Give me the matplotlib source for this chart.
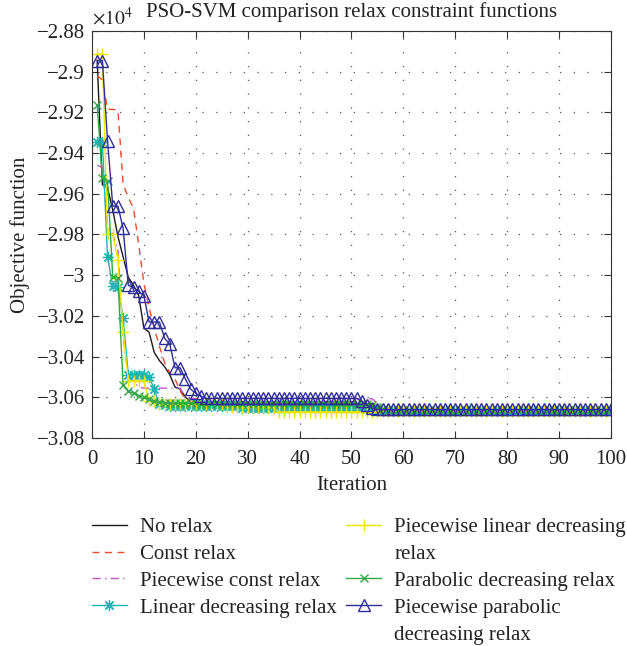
import matplotlib.pyplot as plt
from matplotlib.ticker import FuncFormatter, MultipleLocator

plt.rcParams['font.family'] = ['Liberation Serif', 'DejaVu Serif']
plt.rcParams['mathtext.fontset'] = 'stix'

# data (objective values in units of 1e4)
iters = list(range(1, 101))

no_relax = [-2.8945, -2.9555, -2.957, -2.968, -2.981, -2.991, -3.001, -3.005, -3.010, -3.026,
            -3.028, -3.038, -3.042, -3.045, -3.049, -3.055, -3.056, -3.060, -3.062, -3.0625] \
    + [-3.0628] * 30 \
    + [-3.063, -3.0635, -3.064, -3.0645, -3.065, -3.0655, -3.066] \
    + [-3.0663] * 43

const_relax = [-2.902, -2.904, -2.9185, -2.9185, -2.919, -2.955, -2.962, -2.967, -2.985,
               -3.004, -3.016, -3.026, -3.035, -3.043, -3.048, -3.051, -3.057, -3.061] \
    + [-3.0622] * 34 \
    + [-3.063, -3.064, -3.065, -3.0658] \
    + [-3.0662] * 44

pw_const_relax = [-2.946, -2.947, -2.975, -2.980, -2.987, -3.030, -3.050, -3.052, -3.055] \
    + [-3.0555] * 8 \
    + [-3.0605] \
    + [-3.0607] * 36 \
    + [-3.063, -3.0655] \
    + [-3.0662] * 44

linear_dec = [-2.9345, -2.9345, -2.991, -3.0055, -3.006, -3.021, -3.049, -3.049, -3.049,
              -3.049, -3.050, -3.056, -3.0635, -3.064] \
    + [-3.0645] * 14 \
    + [-3.0655] * 24 \
    + [-3.066] * 3 \
    + [-3.0665] * 45

pw_linear_dec = [-2.8914, -2.8914, -2.980, -2.980, -2.9925, -3.028, -3.052, -3.052, -3.052,
                 -3.052, -3.062, -3.062] \
    + [-3.0635] * 13 \
    + [-3.065] * 10 \
    + [-3.0672] * 17 \
    + [-3.067] * 3 \
    + [-3.0665] * 45

parabolic_dec = [-2.9164, -2.952, -2.9535, -3.001, -3.0015, -3.054, -3.057, -3.058, -3.0595,
                 -3.060, -3.061, -3.062, -3.0625] \
    + [-3.063] * 7 \
    + [-3.0635] * 33 \
    + [-3.064, -3.065, -3.0658] \
    + [-3.0662] * 44

pw_parabolic_dec = [-2.8945, -2.8945, -2.934, -2.966, -2.966, -2.977, -3.005, -3.006, -3.008,
                    -3.010, -3.023, -3.023, -3.023, -3.031, -3.034, -3.0455, -3.0455, -3.051,
                    -3.056, -3.058, -3.0595] \
    + [-3.0605] * 30 \
    + [-3.062, -3.064, -3.0652] \
    + [-3.066] * 46

labels_left = ['No relax', 'Const relax', 'Piecewise const relax', 'Linear decreasing relax']
# second column: long names wrap onto a second row with no marker
labels_right = ['Piecewise linear decreasing', 'relax', 'Parabolic decreasing relax',
                'Piecewise parabolic', 'decreasing relax']

fig = plt.figure(figsize=(6.27, 6.46), dpi=100)
ax = fig.add_axes([0.1467, 0.322, 0.8278, 0.630])

h1, = ax.plot(iters, no_relax, color='#1a1a1a', lw=1.0)
h2, = ax.plot(iters, const_relax, color='#f04a2a', lw=1.0, ls=(0, (5, 4)))
h3, = ax.plot(iters, pw_const_relax, color='#c455c4', lw=1.0, ls=(0, (6, 3, 1, 3)))
h4, = ax.plot(iters, linear_dec, color='#1fb5b5', lw=1.0, marker=(8, 2, 0), ms=8, mew=0.9)
h5, = ax.plot(iters, pw_linear_dec, color='#f0e600', lw=1.0, marker='+', ms=9, mew=1.0)
h6, = ax.plot(iters, parabolic_dec, color='#33a845', lw=1.0, marker='x', ms=6, mew=1.0)
h7, = ax.plot(iters, pw_parabolic_dec, color='#2e2e99', lw=1.0, marker='^', ms=8,
              mfc='none', mew=1.0)

ax.set_xlim(0, 100)
ax.set_ylim(-3.08, -2.88)
ax.xaxis.set_major_locator(MultipleLocator(10))
ax.yaxis.set_major_locator(MultipleLocator(0.02))
ax.yaxis.set_major_formatter(FuncFormatter(lambda v, p: f"{round(v, 4):g}".replace('-', '\u2212')))
ax.tick_params(direction='in', length=5, top=True, right=True, labelsize=15, color='#333',
               labelcolor='#222')
ax.tick_params(axis='y', pad=5)
ax.tick_params(axis='x', pad=9)
ax.grid(True, color='#555', linestyle=(0, (1, 10)), lw=0.9)
for s in ax.spines.values():
    s.set_color('#333')

ax.set_title('PSO-SVM comparison relax constraint functions', fontsize=15, pad=10, color='#222')
ax.set_xlabel('Iteration', fontsize=15, labelpad=5, color='#222')
ax.set_ylabel('Objective function', fontsize=15, labelpad=5, color='#222')
ax.text(0.0, 1.006, r'$\times10^{4}$', transform=ax.transAxes, fontsize=14, ha='left',
        va='bottom', color='#222')

blank = plt.Line2D([], [], linestyle='none')
leg_kw = dict(loc='upper left', frameon=False, fontsize=15, numpoints=1, handlelength=1.68,
              handletextpad=0.63, labelspacing=0.35, borderpad=0, borderaxespad=0,
              labelcolor='#222')
fig.legend([h1, h2, h3, h4], labels_left, bbox_to_anchor=(0.1467, 0.199), **leg_kw)
fig.legend([h5, blank, h6, h7, blank], labels_right, bbox_to_anchor=(0.552, 0.199), **leg_kw)

fig.savefig('out.png', dpi=100)
